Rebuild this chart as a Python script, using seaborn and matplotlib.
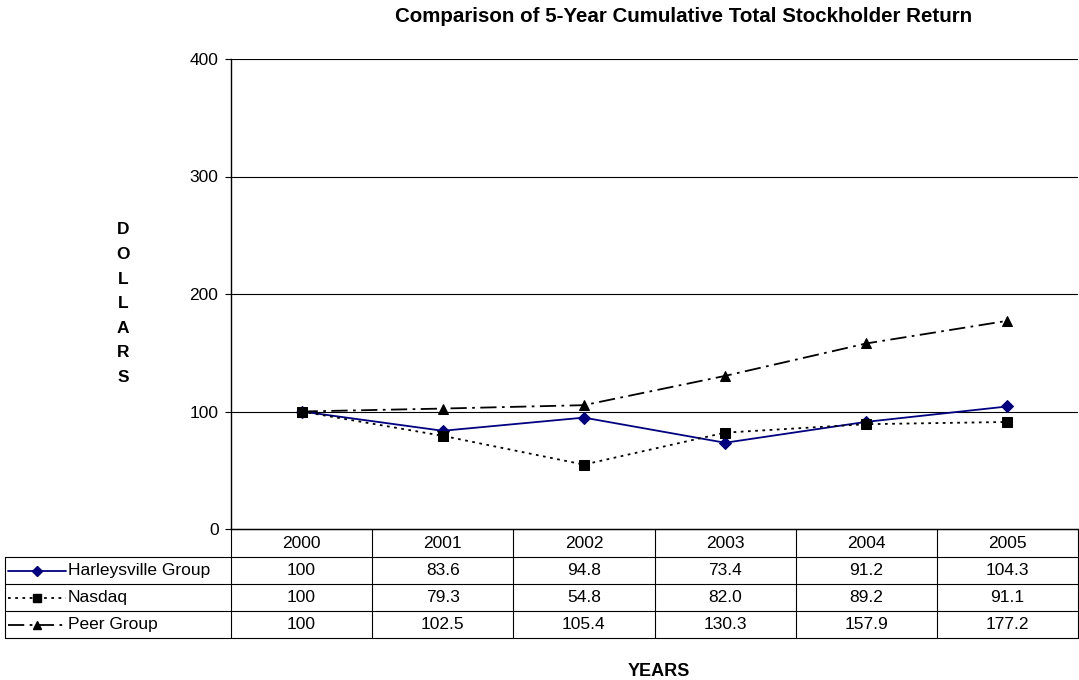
import matplotlib
matplotlib.use("Agg")
import matplotlib.pyplot as plt
from matplotlib.lines import Line2D
import seaborn as sns
import pandas as pd
import numpy as np

years = ["2000", "2001", "2002", "2003", "2004", "2005"]
harleysville = [100, 83.6, 94.8, 73.4, 91.2, 104.3]
nasdaq = [100, 79.3, 54.8, 82.0, 89.2, 91.1]
peer = [100, 102.5, 105.4, 130.3, 157.9, 177.2]
series_names = ["Harleysville Group", "Nasdaq", "Peer Group"]
series_values = [harleysville, nasdaq, peer]
table_text = [
    ["100", "83.6", "94.8", "73.4", "91.2", "104.3"],
    ["100", "79.3", "54.8", "82.0", "89.2", "91.1"],
    ["100", "102.5", "105.4", "130.3", "157.9", "177.2"],
]
yticks = [0, 100, 200, 300, 400]

sns.set_theme(style="white")
plt.rcParams["font.family"] = ["Liberation Sans", "DejaVu Sans"]
plt.rcParams["text.color"] = "black"
plt.rcParams["axes.labelcolor"] = "black"
plt.rcParams["xtick.color"] = "black"
plt.rcParams["ytick.color"] = "black"

W, H = 1079, 680
fig = plt.figure(figsize=(W / 100, H / 100), dpi=100)

ax_l, ax_r, ax_t, ax_b = 231, 1078, 59, 529
ax = fig.add_axes([ax_l / W, 1 - ax_b / H, (ax_r - ax_l) / W, (ax_b - ax_t) / H])

colors = {"Harleysville Group": "#000080", "Nasdaq": "black", "Peer Group": "black"}
markers = {"Harleysville Group": "D", "Nasdaq": "s", "Peer Group": "^"}
msizes = {"Harleysville Group": 6, "Nasdaq": 7, "Peer Group": 7.5}
dashes = {"Harleysville Group": (None, None), "Nasdaq": (1.5, 2.5), "Peer Group": (9, 3, 1.5, 3)}

rows = []
for name, vals in zip(series_names, series_values):
    for i, v in enumerate(vals):
        rows.append({"x": i, "value": v, "series": name})
df = pd.DataFrame(rows)

for name in series_names:
    sub = df[df["series"] == name]
    sns.lineplot(data=sub, x="x", y="value", ax=ax, color=colors[name],
                 marker=markers[name], markersize=msizes[name],
                 markeredgecolor=colors[name], markerfacecolor=colors[name],
                 linewidth=1.3, legend=False, zorder=3)
    ln = ax.lines[-1]
    d = dashes[name]
    if d[0] is None:
        ln.set_linestyle("-")
    else:
        ln.set_linestyle((0, d))

ax.set_xlim(-0.5, 5.5)
ax.set_ylim(0, 400)
ax.set_yticks(yticks)
ax.set_yticklabels([str(t) for t in yticks], fontsize=12.5, color="black")
ax.set_xticks([])
ax.set_xlabel("")
ax.set_ylabel("")
for t in yticks[1:]:
    ax.axhline(t, color="black", linewidth=0.8, zorder=1)
ax.tick_params(axis="y", direction="out", length=4, width=0.8, pad=5, left=True, color="black")
for s in ["top", "right"]:
    ax.spines[s].set_visible(False)
for s in ["left", "bottom"]:
    ax.spines[s].set_color("black")
    ax.spines[s].set_linewidth(1.0)

# Title and axis labels
fig.text(684 / W, 1 - 17 / H, "Comparison of 5-Year Cumulative Total Stockholder Return",
         ha="center", va="center", fontsize=14.8, fontweight="bold")
for k, ch in enumerate("DOLLARS"):
    fig.text(123 / W, 1 - (230 + k * 24.5) / H, ch, ha="center", va="center",
             fontsize=12.5, fontweight="bold")
fig.text(659 / W, 1 - 671 / H, "YEARS", ha="center", va="center", fontsize=13, fontweight="bold")

# Data table (overlay in pixel coordinates)
ov = fig.add_axes([0, 0, 1, 1], facecolor="none")
ov.set_xlim(0, W)
ov.set_ylim(H, 0)
ov.axis("off")

fig.canvas.draw()
bounds = [ax.transData.transform((i - 0.5, 0))[0] for i in range(len(years) + 1)]
centers = [(bounds[i] + bounds[i + 1]) / 2 for i in range(len(years))]
row_edges = [529, 557, 584, 611, 638]
leg_left = 5
lw = 0.8
# horizontal lines
for j, y in enumerate(row_edges):
    x0 = bounds[0] if j == 0 else leg_left
    ov.plot([x0, bounds[-1]], [y, y], color="black", lw=lw)
# vertical lines
for b in bounds:
    ov.plot([b, b], [row_edges[0], row_edges[-1]], color="black", lw=lw)
ov.plot([leg_left, leg_left], [row_edges[1], row_edges[-1]], color="black", lw=lw)

fs = 12.5
for i, yr in enumerate(years):
    ov.text(centers[i], (row_edges[0] + row_edges[1]) / 2, yr, ha="center", va="center", fontsize=fs)
for r, name in enumerate(series_names):
    yc = (row_edges[r + 1] + row_edges[r + 2]) / 2
    for i in range(len(years)):
        ov.text(centers[i], yc, table_text[r][i], ha="center", va="center", fontsize=fs)
    d = dashes[name]
    ls = "-" if d[0] is None else (0, d)
    ov.add_line(Line2D([8, 66], [yc, yc], color=colors[name], lw=1.3, linestyle=ls))
    ov.add_line(Line2D([37], [yc], color=colors[name], marker=markers[name],
                       markersize=msizes[name] * 0.85, linestyle="none"))
    ov.text(68, yc, name, ha="left", va="center", fontsize=fs)

fig.savefig("out.png", dpi=100)
